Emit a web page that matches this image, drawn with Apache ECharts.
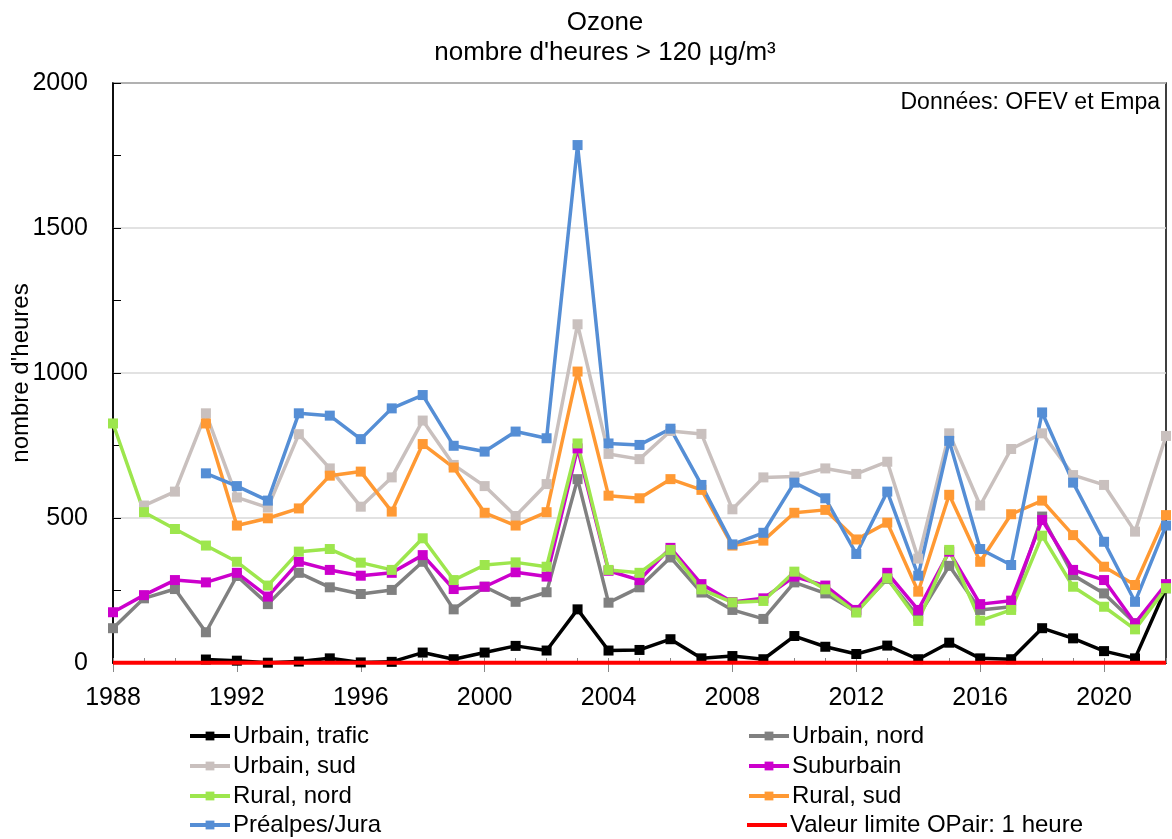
<!DOCTYPE html>
<html>
<head>
<meta charset="utf-8">
<script src="https://cdn.jsdelivr.net/npm/echarts@6/dist/echarts.min.js"></script>
<style>
html,body{margin:0;padding:0;background:#fff;}
#chart{width:1172px;height:839px;}
</style>
</head>
<body>
<div id="chart"></div>
<script>
const years = [1988,1989,1990,1991,1992,1993,1994,1995,1996,1997,1998,1999,2000,2001,2002,2003,2004,2005,2006,2007,2008,2009,2010,2011,2012,2013,2014,2015,2016,2017,2018,2019,2020,2021,2022];
const urbainTrafic = [null,null,null,12,8,1,5,16,2,4,36,13,36,59,43,185,43,45,82,16,24,13,93,56,31,60,13,70,16,13,120,85,41,16,258];
const urbainNord = [120,223,255,106,300,203,311,261,238,252,349,185,263,211,244,634,208,261,364,243,183,152,278,240,177,290,160,335,183,194,505,303,240,137,265];
const urbainSud = [null,543,591,861,571,536,789,671,539,640,836,683,610,507,617,1168,721,703,800,790,530,640,643,671,652,694,360,792,543,738,792,648,614,453,783];
const suburbain = [175,234,286,278,311,229,349,321,301,311,372,255,263,313,298,740,318,286,397,272,210,223,298,267,183,311,183,384,203,215,493,321,286,137,272];
const ruralNord = [826,520,462,405,349,267,384,393,346,321,430,286,338,347,332,757,321,311,390,254,209,214,315,254,174,292,145,390,146,183,439,263,194,116,258];
const ruralSud = [null,null,null,826,474,499,533,646,660,522,755,674,518,474,520,1005,577,568,634,597,405,422,518,528,426,484,246,580,349,513,560,441,332,269,510];
const prealpesJura = [null,null,null,654,610,560,861,853,772,878,924,749,729,798,775,1786,757,752,808,614,409,449,622,568,376,591,301,766,393,338,864,622,418,211,474];
const valeurLimite = 1;
const yTicks = [0,500,1000,1500,2000];

const seriesDefs = [
  {name:'Urbain, trafic', data:urbainTrafic, color:'#000000'},
  {name:'Urbain, nord', data:urbainNord, color:'#808080'},
  {name:'Urbain, sud', data:urbainSud, color:'#C9C0BE'},
  {name:'Suburbain', data:suburbain, color:'#CC00CC'},
  {name:'Rural, nord', data:ruralNord, color:'#9DE64D'},
  {name:'Rural, sud', data:ruralSud, color:'#FF9933'},
  {name:'Préalpes/Jura', data:prealpesJura, color:'#558ED5'}
];
const limitName = 'Valeur limite OPair: 1 heure';

const FONT = '"Liberation Sans", Arial, sans-serif';

const series = seriesDefs.map(d => ({
  name: d.name,
  type: 'line',
  xAxisIndex: 0,
  data: years.map((y,i) => [y, d.data[i]]),
  connectNulls: false,
  symbol: 'rect',
  symbolSize: 10,
  showSymbol: true,
  itemStyle: {color: d.color},
  lineStyle: {color: d.color, width: 3.5},
  emphasis: {disabled: true},
  animation: false
}));
series.push({
  name: limitName,
  type: 'line',
  xAxisIndex: 0,
  data: years.map(y => [y, valeurLimite]),
  symbol: 'none',
  itemStyle: {color: '#FF0000'},
  lineStyle: {color: '#FF0000', width: 4},
  z: 5,
  animation: false
});

// legend layout: two columns, four rows
const legendOrder = [
  ['Urbain, trafic', 0, 0], ['Urbain, nord', 1, 0],
  ['Urbain, sud', 0, 1], ['Suburbain', 1, 1],
  ['Rural, nord', 0, 2], ['Rural, sud', 1, 2],
  ['Préalpes/Jura', 0, 3], [limitName, 1, 3]
];
const colLeft = [188, 747];
const rowTop = [724, 754, 784, 813];
const legends = legendOrder.map(([name, c, r]) => {
  const isLimit = name === limitName;
  return {
    orient: 'horizontal', left: colLeft[c], top: rowTop[r],
    itemWidth: 40, itemHeight: isLimit ? 4 : 11, itemGap: 0, padding: 0,
    icon: isLimit ? 'rect' : undefined,
    lineStyle: {width: 4},
    data: [name],
    selectedMode: false,
    textStyle: {fontFamily: FONT, fontSize: 24, color: '#000', padding: [0,0,0,-2]}
  };
});

const chart = echarts.init(document.getElementById('chart'));
chart.setOption({
  backgroundColor: '#fff',
  animation: false,
  title: {
    text: 'Ozone\nnombre d\'heures > 120 µg/m³',
    left: 600,
    top: 3,
    textAlign: 'center',
    textStyle: {fontFamily: FONT, fontSize: 26, fontWeight: 'normal', color: '#000', lineHeight: 30}
  },
  graphic: [{
    type: 'text',
    right: 12,
    top: 91,
    style: {text: 'Données: OFEV et Empa', font: '23px ' + FONT, fill: '#000'}
  }],
  grid: {left: 113, right: 6, top: 83, bottom: 176, containLabel: false, outerBoundsMode: 'none',
    show: true, borderColor: '#000', borderWidth: 1.5, backgroundColor: 'transparent'},
  legend: legends,
  xAxis: [
    {
      type: 'value', min: years[0], max: years[years.length-1], interval: 4,
      axisLine: {show: true, lineStyle: {color: '#000', width: 1.5}},
      axisTick: {show: true, inside: false, length: 9, lineStyle: {color: '#888'}},
      axisLabel: {fontFamily: FONT, fontSize: 25, color: '#000', margin: 23, showMaxLabel: false,
        formatter: v => String(v)},
      splitLine: {show: false}
    },
    {
      type: 'value', min: years[0], max: years[years.length-1], interval: 1, position: 'bottom',
      axisLine: {show: false},
      axisTick: {show: true, inside: true, length: 5, lineStyle: {color: '#888'}},
      axisLabel: {show: false},
      splitLine: {show: false}
    }
  ],
  yAxis: {
    type: 'value', min: yTicks[0], max: yTicks[yTicks.length-1], interval: 500,
    name: 'nombre d\'heures', nameLocation: 'middle', nameRotate: 90, nameGap: 80,
    nameMoveOverlap: false,
    nameTextStyle: {fontFamily: FONT, fontSize: 24, color: '#000'},
    axisLine: {show: true, lineStyle: {color: '#000', width: 1.5}},
    axisTick: {show: true, inside: true, length: 8, lineStyle: {color: '#000'}},
    minorTick: {show: true, splitNumber: 2, length: 8, lineStyle: {color: '#000'}},
    axisLabel: {fontFamily: FONT, fontSize: 25, color: '#000', margin: 25, formatter: v => String(v)},
    splitLine: {show: true, lineStyle: {color: '#D9D9D9', width: 1.5}}
  },
  series: series
});
</script>
</body>
</html>
